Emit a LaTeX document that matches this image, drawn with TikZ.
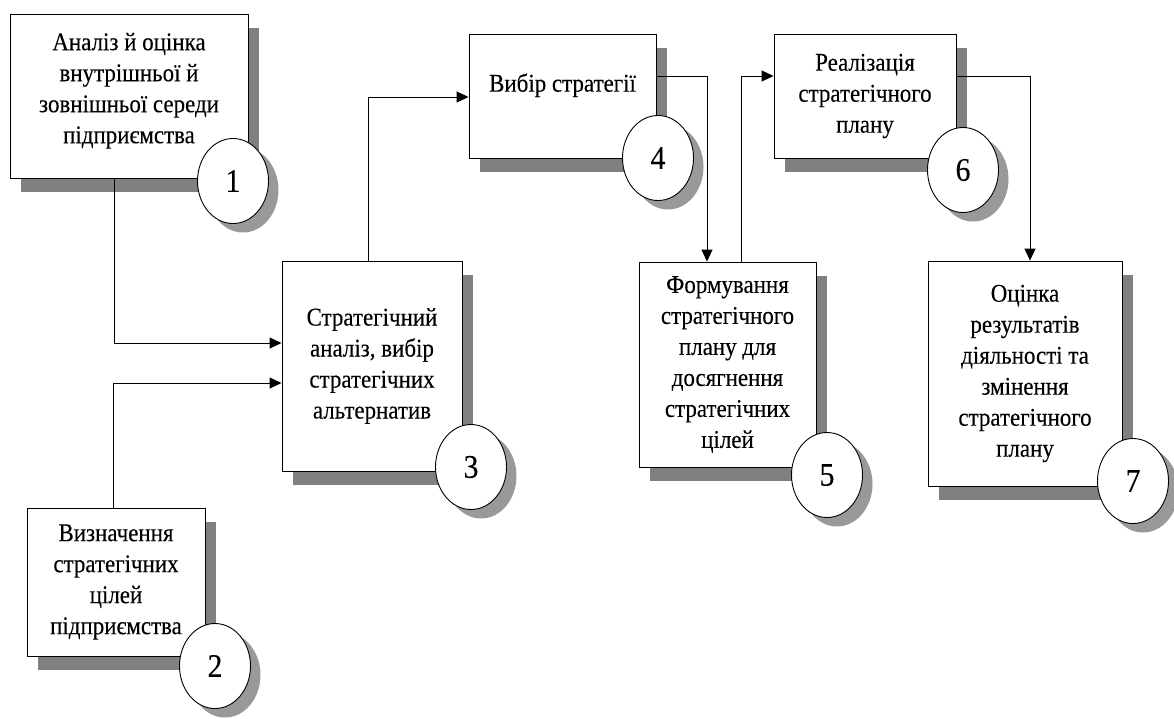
\documentclass[tikz,border=0pt]{standalone}
\usepackage{fontspec}
\setmainfont{Liberation Serif}[FakeStretch=0.9,FakeBold=0.2]
\usetikzlibrary{arrows.meta,shapes.geometric,shadows}

\begin{document}
\begin{tikzpicture}[x=1pt,y=-1pt,
	stage/.style={draw, fill=white, line width=0.9pt, align=center, inner sep=2pt,
		font=\fontsize{25.5}{31}\selectfont,
		drop shadow={shadow xshift=11pt, shadow yshift=-14pt, fill=black!50, opacity=1}},
	num/.style={ellipse, draw, fill=white, line width=0.9pt, inner sep=0pt,
		minimum width=71pt, minimum height=85pt, font=\fontsize{33}{33}\selectfont,
		drop shadow={shadow xshift=10pt, shadow yshift=-9pt, fill=black!40, opacity=1}},
	arr/.style={line width=0.9pt, -{Triangle[length=12pt,width=11pt]}},
	link/.style={line width=0.9pt}]
	\useasboundingbox (0,0) rectangle (1174,718);
	% stages
	\node[stage, minimum width=238pt, minimum height=164pt, text depth=16pt] (s1) at (129,96) {Аналіз й оцінка\\внутрішньої й\\зовнішньої середи\\підприємства};
	\node[num] (n1) at (233,181) {1};
	\node[stage, minimum width=178pt, minimum height=148pt] (s2) at (116,582) {Визначення\\стратегічних\\цілей\\підприємства};
	\node[num] (n2) at (215,666) {2};
	\node[stage, minimum width=180pt, minimum height=210pt] (s3) at (372,366) {Стратегічний\\аналіз, вибір\\стратегічних\\альтернатив};
	\node[num] (n3) at (471,467) {3};
	\node[stage, minimum width=187pt, minimum height=124pt, text depth=27pt] (s4) at (562.5,96) {Вибір стратегії};
	\node[num] (n4) at (658,158) {4};
	\node[stage, minimum width=177pt, minimum height=205pt] (s5) at (727.5,364.5) {Формування\\стратегічного\\плану для\\досягнення\\стратегічних\\цілей};
	\node[num] (n5) at (827,475) {5};
	\node[stage, minimum width=182pt, minimum height=124pt] (s6) at (865,96) {Реалізація\\стратегічного\\плану};
	\node[num] (n6) at (963,170) {6};
	\node[stage, minimum width=194pt, minimum height=225pt] (s7) at (1025,373.5) {Оцінка\\результатів\\діяльності та\\змінення\\стратегічного\\плану};
	\node[num] (n7) at (1133,481) {7};
	% connectors
	\draw[arr] ([xshift=-15pt]s1.south) |- ([yshift=23pt]s3.west);
	\draw[arr] ([xshift=-3pt]s2.north) |- ([yshift=-17pt]s3.west);
	\draw[arr] ([xshift=-4pt]s3.north) |- ([yshift=-1pt]s4.west);
	\draw[arr] ([yshift=20pt]s4.east) -| ([xshift=-20.5pt]s5.north);
	\draw[arr] ([xshift=13.5pt]s5.north) |- ([yshift=20pt]s6.west);
	\draw[arr] ([yshift=20pt]s6.east) -| ([xshift=5pt]s7.north);
\end{tikzpicture}
\end{document}
